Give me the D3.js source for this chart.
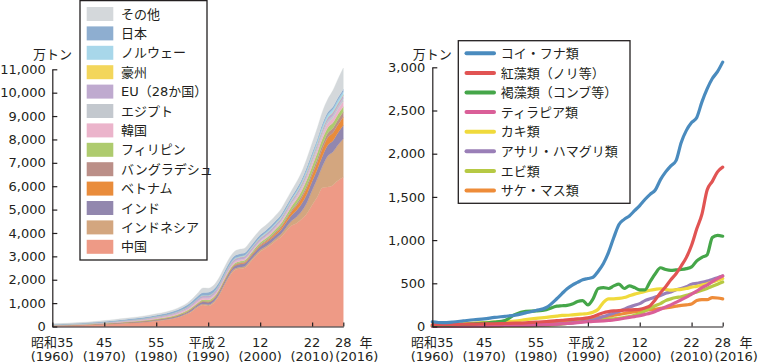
<!DOCTYPE html>
<html><head><meta charset="utf-8">
<script src="https://cdn.jsdelivr.net/npm/d3@7"></script>
<style>
html,body{margin:0;padding:0;background:#fff;}
svg{display:block;font-family:"DejaVu Sans","Noto Sans CJK JP",sans-serif;}
</style></head>
<body>
<svg id="c" width="759" height="364"></svg>
<script>
// ---------- DATA ----------
const years = [1960,1962,1964,1966,1968,1970,1972,1974,1976,1978,1980,1982,1984,1985,1986,1987,1988,1989,1990,1991,1992,1993,1994,1995,1996,1997,1998,1999,2000,2001,2002,2003,2004,2005,2006,2007,2008,2009,2010,2011,2012,2013,2014,2015,2016];

// Left chart: aquaculture production by country (万トン), stacked bottom -> top
const countryKeys = ["中国","インドネシア","インド","ベトナム","バングラデシュ","フィリピン","韓国","エジプト","EU（28か国）","豪州","ノルウェー","日本","その他"];
const china       = [42,45,54,63,78,98,115,138,160,188,238,289,374,448,533,664,818,915,880,992,1282,1701,2109,2397,2475,2507,2730,2978,3199,3335,3483,3668,3831,4073,4311,4415,4596,4834,5197,5538,5934,5964,6045,6239,6383];
const indonesia   = [4,5,6,7,8,9,10,11,12,14,16,19,24,27,30,36,44,50,55,56,57,58,59,60,62,64,66,70,75,80,86,92,120,160,200,270,340,470,630,790,930,1330,1420,1530,1650];
const india       = [8,9,10,12,14,17,20,23,26,30,34,40,50,55,62,70,80,90,100,104,108,112,116,120,125,130,135,140,145,152,160,168,180,210,240,280,320,365,380,400,430,460,480,530,570];
const vietnam     = [2,2,2,3,3,3,3,4,4,4,5,6,7,8,9,10,12,14,16,18,21,24,27,30,32,34,36,38,40,46,54,70,95,120,150,195,240,260,270,295,315,330,340,345,360];
const bangladesh  = [2,2,3,3,3,4,4,5,5,6,7,8,10,11,12,14,15,17,19,20,21,22,23,25,28,32,38,44,50,54,58,61,64,68,75,88,102,120,131,152,172,186,196,206,220];
const philippines = [3,4,5,6,8,10,12,15,18,22,26,30,36,40,44,48,52,56,60,58,56,55,55,55,58,62,68,75,82,90,98,108,118,130,150,180,210,235,250,260,255,235,234,235,220];
const korea       = [3,4,5,7,9,13,18,24,30,38,46,54,62,66,70,75,80,85,90,88,86,84,82,80,78,72,64,58,55,60,66,70,76,86,95,105,115,125,135,150,170,185,200,215,235];
const egypt       = [1,1,1,1,1,1,1,1,2,2,2,3,3,3,4,4,5,5,6,6,6,6,6,6,7,8,11,18,26,27,30,34,37,42,50,58,65,71,92,98,102,110,114,117,137];
const eu          = [14,16,18,21,24,28,32,36,40,44,48,52,56,60,64,70,78,86,95,95,95,95,95,95,98,100,102,104,106,105,104,103,102,101,102,110,118,127,126,128,125,124,127,129,130];
const australia   = [0.5,0.5,0.5,0.5,0.5,0.5,0.5,0.6,0.7,0.8,1,1,1.2,1.2,1.3,1.3,1.4,1.5,1.5,1.6,1.7,1.8,1.9,2,2.2,2.4,2.6,2.8,3,3.2,3.4,3.6,3.9,4.2,4.6,5.2,5.8,6.5,7,7.5,8,8.5,8.8,9,9.5];
const norway      = [0,0,0,0,0,0.1,0.2,0.3,0.5,0.7,1,2,3,4,6,8,10,12,15,17,19,21,23,25,28,31,34,37,40,42,45,48,52,56,62,76,82,96,101,114,132,125,133,138,133];
const japan       = [14,17,20,24,28,33,40,46,52,56,60,66,76,82,90,100,110,118,127,124,122,120,118,115,112,108,108,105,104,106,108,104,101,100,100,108,106,121,111,88,107,103,102,107,103];
const others      = [28,29,31,33,35,38,42,46,50,54,56,60,68,75,85,100,125,200,175,170,175,180,185,190,195,200,205,210,215,220,225,230,240,250,260,290,320,370,420,480,520,560,700,800,900];
const countryColors = ["#ee9a86","#d3a67f","#9287ae","#e98c3b","#bb8f88","#aecb6e","#ebb4cb","#c3c8ce","#bfaacf","#f3d65b","#a8d7ea","#8eaed0","#d4d8db"];

// Right chart: species (万トン)
const speciesNames = ["コイ・フナ類","紅藻類（ノリ等）","褐藻類（コンブ等）","ティラピア類","カキ類","アサリ・ハマグリ類","エビ類","サケ・マス類"];
const carp    = [55,45,52,65,78,88,105,118,132,158,185,220,321,380,437,480,510,540,555,570,640,730,860,1030,1180,1240,1280,1340,1400,1470,1530,1580,1700,1790,1860,1920,2130,2270,2360,2420,2600,2750,2870,2950,3060];
const redAlgae= [20,22,24,26,28,30,32,35,38,42,50,58,68,72,78,82,88,92,100,115,140,160,172,180,185,188,192,195,200,215,240,310,390,460,540,610,700,800,940,1130,1300,1580,1680,1790,1845];
const brownAlgae=[12,15,18,23,30,40,50,70,140,175,180,195,235,240,245,260,290,300,250,320,440,450,440,470,490,440,470,450,425,425,520,610,680,660,650,655,660,670,690,760,800,830,1030,1055,1045];
const tilapia = [2,3,4,5,6,8,10,12,14,16,18,22,28,32,36,40,45,50,55,58,62,66,70,75,85,95,105,115,125,140,155,175,200,225,250,280,310,340,375,410,450,480,520,555,585];
const oyster  = [20,25,30,35,40,45,50,55,62,80,95,105,120,128,130,135,140,145,150,165,200,280,320,320,325,335,355,375,390,405,420,430,437,430,420,425,430,440,455,465,480,495,515,535,555];
const clam    = [5,6,7,8,9,10,12,13,14,15,18,22,28,32,36,42,48,55,62,75,95,115,135,155,175,200,225,245,265,300,320,340,360,385,400,425,440,460,490,500,510,525,545,565,585];
const shrimp  = [1,1,2,2,3,4,5,6,7,8,10,15,22,28,35,45,55,60,65,70,75,80,85,90,95,105,115,130,150,180,210,240,265,300,320,335,345,360,380,400,420,440,465,490,515];
const salmon  = [3,4,5,6,7,8,10,12,15,20,25,32,42,48,55,62,70,78,85,95,105,112,120,130,140,150,160,170,180,190,195,200,210,215,225,235,245,250,260,300,310,310,335,330,320];
const speciesColors = ["#4a8bbe","#e15453","#45a649","#da5f98","#f0da3c","#9a7fb7","#b6c944","#ee8c39"];

const xTickYears = [1960,1970,1980,1990,2000,2010,2016];
const xTickLine1 = ["昭和35","45","55","平成２","12","22","28"];
const xTickLine2 = ["(1960)","(1970)","(1980)","(1990)","(2000)","(2010)","(2016)"];

// ---------- DRAW ----------
const svg = d3.select("#c");
const ink = "#231f20";

function xAxisLabels(g, x, baseY, yearX){
  xTickYears.forEach((yr,i)=>{
    const t = g.append("text").attr("text-anchor","middle").attr("font-size",13).attr("fill",ink);
    t.append("tspan").attr("x",x(yr)).attr("y",baseY).text(xTickLine1[i]);
    // last year's second line sits just right of the previous one (as in the reference)
    const x2 = (i === xTickYears.length-1) ? x(yr) + 13.5 : x(yr);
    t.append("tspan").attr("x",x2).attr("y",baseY+14).text(xTickLine2[i]);
  });
  g.append("text").attr("x",yearX).attr("y",baseY).attr("text-anchor","middle")
    .attr("font-size",13).attr("fill",ink).text("年");
}
function styleAxis(g){
  g.selectAll("path.domain").attr("stroke",ink).attr("stroke-width",1.2);
  g.selectAll(".tick line").attr("stroke",ink).attr("stroke-width",1.2);
  g.selectAll(".tick text").attr("fill",ink).attr("font-size",13)
   .attr("font-family","DejaVu Sans, sans-serif");
}

// ===== Left chart =====
const xL = d3.scaleLinear().domain([1960,2016]).range([52.3,343.3]);
const yL = d3.scaleLinear().domain([0,11000]).range([326.5,69.3]);

const seriesArrays = [china,indonesia,india,vietnam,bangladesh,philippines,korea,egypt,eu,australia,norway,japan,others];
const table = years.map((yr,i)=>{
  const o = {year:yr};
  countryKeys.forEach((k,j)=>{ o[k] = seriesArrays[j][i]; });
  return o;
});
const stacked = d3.stack().keys(countryKeys)(table);
const area = d3.area().x(d=>xL(d.data.year)).y0(d=>yL(d[0])).y1(d=>yL(d[1])).curve(d3.curveMonotoneX);
svg.append("g").selectAll("path").data(stacked).join("path")
  .attr("d",area).attr("fill",(d,i)=>countryColors[i])
  .attr("stroke",(d,i)=>countryColors[i]).attr("stroke-width",0.3);

const gyL = svg.append("g").attr("transform",`translate(${xL(1960)},0)`)
  .call(d3.axisLeft(yL).ticks(11).tickFormat(d3.format(",")).tickSize(-5).tickSizeOuter(0).tickPadding(6.5));
styleAxis(gyL);
const gxL = svg.append("g").attr("transform",`translate(0,${yL(0)})`)
  .call(d3.axisBottom(xL).tickValues(xTickYears).tickFormat("").tickSize(-4).tickSizeOuter(0));
styleAxis(gxL);
xAxisLabels(svg.append("g"), xL, 346.5, 366);
svg.append("text").attr("x",72).attr("y",58.5).attr("text-anchor","end").attr("font-size",13).attr("fill",ink).text("万トン");

// legend left
const legL = svg.append("g");
legL.append("rect").attr("x",80).attr("y",0.6).attr("width",127).attr("height",259.4)
  .attr("fill","#fff").attr("stroke",ink).attr("stroke-width",1.3);
const legOrder = countryKeys.slice().reverse();
legOrder.forEach((k,i)=>{
  const cy = 14 + i*19.4;
  const ci = countryKeys.indexOf(k);
  legL.append("rect").attr("x",86.7).attr("y",cy-7).attr("width",26.6).attr("height",14).attr("fill",countryColors[ci]);
  legL.append("text").attr("x",121).attr("y",cy+4.6).attr("font-size",13).attr("fill",ink).text(k);
});

// ===== Right chart =====
const xR = d3.scaleLinear().domain([1960,2016]).range([432.3,722.7]);
const yR = d3.scaleLinear().domain([0,3000]).range([326.5,67.3]);
const speciesArrays = [carp,redAlgae,brownAlgae,tilapia,oyster,clam,shrimp,salmon];
const line = d3.line().x((d,i)=>xR(years[i])).y(d=>yR(d)).curve(d3.curveMonotoneX);
const drawOrder = [7,6,5,4,3,2,1,0];
svg.append("g").selectAll("path").data(drawOrder).join("path")
  .attr("d",j=>line(speciesArrays[j])).attr("fill","none")
  .attr("stroke",j=>speciesColors[j]).attr("stroke-width",3.2)
  .attr("stroke-linejoin","round").attr("stroke-linecap","round");

const gyR = svg.append("g").attr("transform",`translate(${xR(1960)},0)`)
  .call(d3.axisLeft(yR).ticks(6).tickFormat(d3.format(",")).tickSize(-5).tickSizeOuter(0).tickPadding(7));
styleAxis(gyR);
const gxR = svg.append("g").attr("transform",`translate(0,${yR(0)})`)
  .call(d3.axisBottom(xR).tickValues(xTickYears).tickFormat("").tickSize(-4).tickSizeOuter(0));
styleAxis(gxR);
xAxisLabels(svg.append("g"), xR, 346.5, 746);
svg.append("text").attr("x",451.7).attr("y",58.5).attr("text-anchor","end").attr("font-size",13).attr("fill",ink).text("万トン");

// legend right
const legR = svg.append("g");
legR.append("rect").attr("x",458.3).attr("y",40.7).attr("width",171.7).attr("height",162.6)
  .attr("fill","#fff").attr("stroke",ink).attr("stroke-width",1.3);
speciesNames.forEach((n,i)=>{
  const cy = 53.3 + i*19.6;
  legR.append("line").attr("x1",466.5).attr("x2",494).attr("y1",cy).attr("y2",cy)
    .attr("stroke",speciesColors[i]).attr("stroke-width",4).attr("stroke-linecap","round");
  legR.append("text").attr("x",500.7).attr("y",cy+4.6).attr("font-size",13).attr("fill",ink).text(n);
});
</script>
</body></html>
